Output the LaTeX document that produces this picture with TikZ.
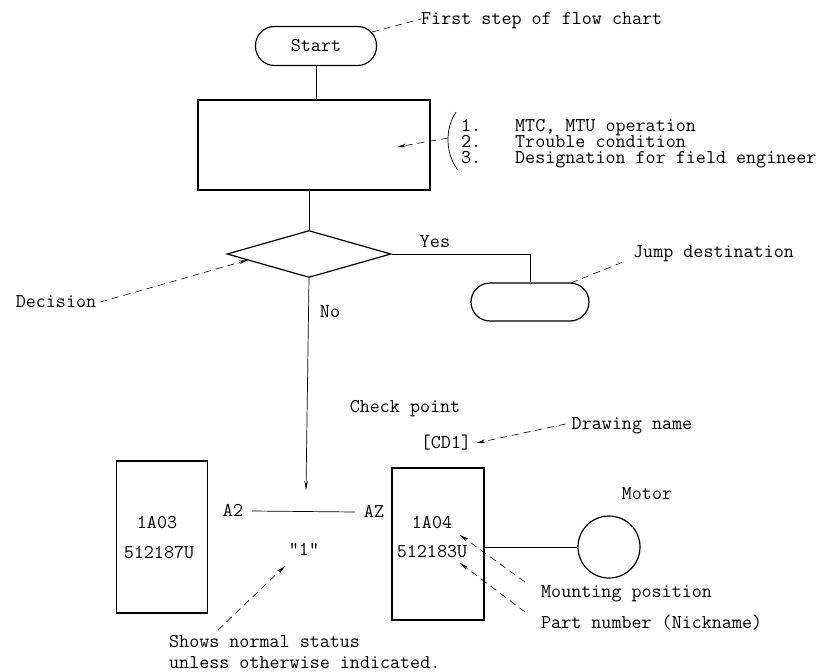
\documentclass[tikz,border=0pt]{standalone}
\usepackage{fontspec}
\usetikzlibrary{arrows.meta,shapes.geometric}

\begin{document}
\begin{tikzpicture}[x=1pt,y=-1pt,>={Stealth[length=9pt,width=3.5pt]},
  every node/.style={font=\fontsize{19.5}{15}\selectfont\ttfamily,inner sep=0pt,
    text height=11pt,text depth=0pt},
  box/.style={draw,line width=1.2pt},
  oval/.style={box,rounded corners=19pt,minimum width=121pt,minimum height=39pt},
  lead/.style={dash pattern=on 7pt off 5pt,line width=0.6pt},
  wire/.style={line width=0.7pt}]
  \useasboundingbox (0,0) rectangle (823,672);
  % flow chart part
  \node[oval] (start) at (316,46) {Start};
  \node[box,minimum width=232pt,minimum height=90pt] (proc) at (314,145) {};
  \node[box,diamond,minimum width=164pt,minimum height=47pt] (dec) at (309,254) {};
  \node[oval,minimum width=118pt,minimum height=38pt] (jump) at (530,302) {};
  \draw[wire] (start.south) -- (start.south |- proc.north);
  \draw[wire] (dec.north |- proc.south) -- (dec.north);
  \draw[wire] (dec.east) -| (jump.north);
  \coordinate (chk) at (306,490);
  \draw[wire,->] (dec.south) -- (chk);
  \node (yes) at (435,242) {Yes};
  \node (no) at (330,312) {No};
  % notes on the flow chart
  \node[anchor=west] (first) at (421,19) {First step of flow chart};
  \coordinate (s1) at (372,32);
  \draw[lead] (s1) -- (first.west);
  \node[anchor=west] (it1) at (461,126) {\makebox[54pt][l]{1.}MTC, MTU operation};
  \node[anchor=west] (it2) at (461,142) {\makebox[54pt][l]{2.}Trouble condition};
  \node[anchor=west] (it3) at (461,158) {\makebox[54pt][l]{3.}Designation for field engineer};
  \draw[wire] (456,112) .. controls (445,128) and (445,154) .. (458,170);
  \coordinate (br) at (448,138);
  \coordinate (ptip) at (397,147);
  \draw[lead,->] (br) -- (ptip);
  \node (decl) at (56,302) {Decision};
  \coordinate (dtip) at (248,260);
  \draw[lead,->] ([xshift=4pt]decl.east) -- (dtip);
  \node[anchor=west] (jmp) at (633,252) {Jump destination};
  \coordinate (j1) at (571,283);
  \draw[lead] (j1) -- ([xshift=-10pt,yshift=-10pt]jmp.west);
  % circuit part
  \node[box,minimum width=91pt,minimum height=152pt] (u1) at (162,537) {};
  \node[box,minimum width=92pt,minimum height=152pt] (u2) at (438,544) {};
  \node[box,circle,minimum size=62pt] (motor) at (609,547) {};
  \node (u1a) at (157,523) {1A03};
  \node (u1b) at (159,553) {512187U};
  \node (u2a) at (432,523) {1A04};
  \node (u2b) at (432,552) {512183U};
  \node (a2) at (233,511) {A2};
  \node (az) at (374,512) {AZ};
  \draw[wire] ([xshift=9pt]a2.east) -- ([xshift=-9pt]az.west);
  \draw[wire] (u2.east |- motor.west) -- (motor.west);
  \node (one) at (304,550) {"1"};
  \node (chkpt) at (405,407) {Check point};
  \node (cd1) at (446,443) {[CD1]};
  \node (dwg) at (632,424) {Drawing name};
  \draw[lead,->] ([xshift=-6pt]dwg.west) -- ([xshift=5pt]cd1.east);
  \node (mot) at (647,494) {Motor};
  \node[anchor=west] (mpos) at (541,592) {Mounting position};
  \node[anchor=west] (pno) at (541,623) {Part number (Nickname)};
  \coordinate (mtip) at (460,535);
  \coordinate (ntip) at (460,563);
  \draw[lead,->] ([xshift=-16pt,yshift=10pt]mpos.west) -- (mtip);
  \draw[lead,->] ([xshift=-16pt,yshift=11pt]pno.west) -- (ntip);
  \node[anchor=west] (norm1) at (169,642) {Shows normal status};
  \node[anchor=west] (norm2) at (169,663) {unless otherwise indicated.};
  \coordinate (ntail) at (218,630);
  \coordinate (otip) at (285,566);
  \draw[lead,->] (ntail) -- (otip);
\end{tikzpicture}
\end{document}
